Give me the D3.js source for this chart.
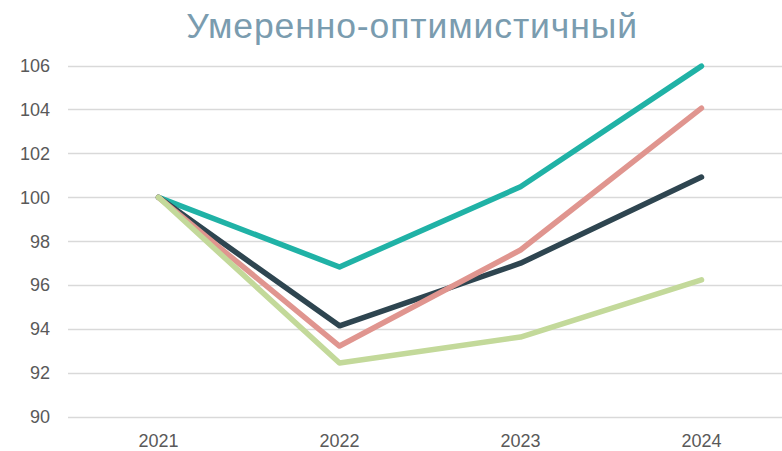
<!DOCTYPE html>
<html lang="ru">
<head>
  <meta charset="UTF-8">
  <title>Умеренно-оптимистичный</title>
  <script src="https://d3js.org/d3.v7.min.js"></script>
  <style>
    body { margin: 0; background: white; font-family: "Liberation Sans", Arial, sans-serif; }
    svg { display: block; }
  </style>
</head>
<body>
  <svg width="782" height="451"></svg>
  <script>
    const years = ["2021", "2022", "2023", "2024"];
    const yTicks = [90, 92, 94, 96, 98, 100, 102, 104, 106];

    const teal = [100, 96.83, 100.48, 105.97];
    const dark = [100, 94.15, 97.0, 100.92];
    const pink = [100, 93.23, 97.6, 104.06];
    const green = [100, 92.46, 93.64, 96.24];

    const series = [
      { values: teal, color: "#20b2a6" },
      { values: dark, color: "#2e4550" },
      { values: pink, color: "#e0958f" },
      { values: green, color: "#c3d99a" }
    ];

    const svg = d3.select("svg");

    const x = d3.scaleBand().domain(years).range([68, 792]);
    const y = d3.scaleLinear().domain([90, 106]).range([417, 65.5]);

    // title
    svg.append("text")
      .attr("x", 412)
      .attr("y", 38)
      .attr("text-anchor", "middle")
      .attr("fill", "#7a9caf")
      .attr("font-size", "35.5px")
      .attr("letter-spacing", "0.9px")
      .text("Умеренно-оптимистичный");

    // gridlines
    svg.append("g")
      .selectAll("line")
      .data(yTicks)
      .enter().append("line")
      .attr("x1", 68)
      .attr("x2", 782)
      .attr("y1", d => Math.round(y(d)) + 0.5)
      .attr("y2", d => Math.round(y(d)) + 0.5)
      .attr("stroke", "#d9d9d9")
      .attr("stroke-width", 1.3);

    // y labels
    svg.append("g")
      .selectAll("text")
      .data(yTicks)
      .enter().append("text")
      .attr("x", 50)
      .attr("y", d => y(d))
      .attr("dy", "0.35em")
      .attr("text-anchor", "end")
      .attr("fill", "#595959")
      .attr("font-size", "18px")
      .text(d => d);

    // x labels
    svg.append("g")
      .selectAll("text")
      .data(years)
      .enter().append("text")
      .attr("x", d => x(d) + x.bandwidth() / 2)
      .attr("y", 447)
      .attr("text-anchor", "middle")
      .attr("fill", "#595959")
      .attr("font-size", "18px")
      .text(d => d);

    const line = d3.line()
      .x((d, i) => x(years[i]) + x.bandwidth() / 2)
      .y(d => y(d));

    svg.append("g")
      .selectAll("path")
      .data(series)
      .enter().append("path")
      .attr("d", d => line(d.values))
      .attr("fill", "none")
      .attr("stroke", d => d.color)
      .attr("stroke-width", 5.5)
      .attr("stroke-linecap", "round")
      .attr("stroke-linejoin", "round");
  </script>
</body>
</html>
